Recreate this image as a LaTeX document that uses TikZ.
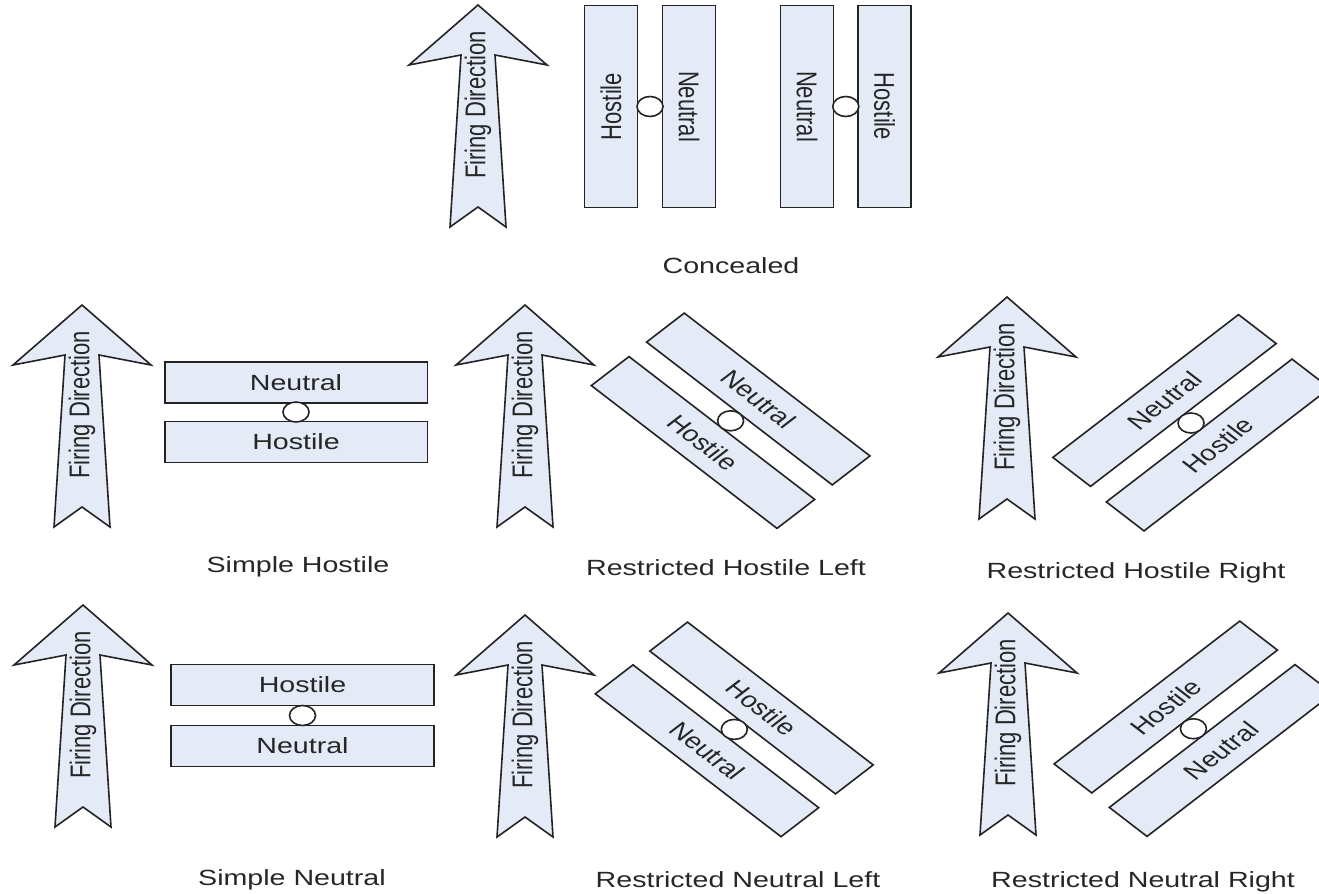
\documentclass[tikz,border=0pt]{standalone}
\usepackage{fontspec}
\setmainfont{Liberation Sans}
\definecolor{boxfill}{RGB}{228,234,246}
\definecolor{edge}{RGB}{35,35,35}
\tikzset{
  lbl/.style={font=\fontsize{11}{13}\selectfont, transform shape, inner sep=0pt, text=black!85},
  slab/.style={draw=edge, fill=boxfill, line width=0.8pt, minimum width=101pt, minimum height=20.5pt,
               inner sep=0pt, transform shape, font=\fontsize{11}{13}\selectfont, text=black!85},
  hinge/.style={circle, draw=edge, fill=white, line width=0.8pt, minimum size=10pt, inner sep=0pt, transform shape},
  arrowbody/.style={draw=edge, fill=boxfill, line width=0.8pt, line join=miter},
  firearrow/.pic={
    \draw[arrowbody] (0,0) -- (69,60) -- (17,50) -- (28,222) -- (0,202) -- (-28,222) -- (-17,50) -- (-69,60) -- cycle;
    \node[lbl, rotate=90] (-txt) at (0,100) {Firing Direction};
  }
}
\begin{document}
\begin{tikzpicture}[x=0.384615pt, y=-0.5pt]
\begin{scope}[xscale=1.3]
\useasboundingbox (0,0) rectangle (1319,893);

% ---------- Concealed ----------
\pic[transform shape] (a0) at (478,5) {firearrow};
\node[slab, rotate=90]  (c1) at (611,106.5) {Hostile};
\node[slab, rotate=-90] (c2) at (689,106.5) {Neutral};
\node[hinge] (h0a) at (650,106.5) {};
\node[slab, rotate=-90] (c3) at (807,106.5) {Neutral};
\node[slab, rotate=-90] (c4) at (884.5,106.5) {Hostile};
\node[hinge] (h0b) at (845.75,106.5) {};
\node[lbl, anchor=base] (l0) at (731,273) {Concealed};

% ---------- Simple Hostile ----------
\pic[transform shape] (a1) at (82,305) {firearrow};
\node[slab] (sh1) at (296,382.5) {Neutral};
\node[slab] (sh2) at (296,442) {Hostile};
\node[hinge] (h1) at (296,412) {};
\node[lbl, anchor=base] (l1) at (298,572) {Simple Hostile};

% ---------- Restricted Hostile Left ----------
\pic[transform shape] (a2) at (525,305) {firearrow};
\node[slab, rotate=-45] (rl1) at (758.25,399) {Neutral};
\node[slab, rotate=-45] (rl2) at (703,442.5) {Hostile};
\node[hinge] (h2) at (730.6,420.8) {};
\node[lbl, anchor=base] (l2) at (726,575) {Restricted Hostile Left};

% ---------- Restricted Hostile Right ----------
\pic[transform shape] (a3) at (1007,297) {firearrow};
\node[slab, rotate=45] (rr1) at (1164.5,400.5) {Neutral};
\node[slab, rotate=45] (rr2) at (1218,445) {Hostile};
\node[hinge] (h3) at (1191,423) {};
\node[lbl, anchor=base] (l3) at (1136,578) {Restricted Hostile Right};

% ---------- Simple Neutral ----------
\pic[transform shape] (a4) at (83,605) {firearrow};
\node[slab] (sn1) at (302.5,685) {Hostile};
\node[slab] (sn2) at (302.5,746) {Neutral};
\node[hinge] (h4) at (302.5,715.5) {};
\node[lbl, anchor=base] (l4) at (292,885) {Simple Neutral};

% ---------- Restricted Neutral Left ----------
\pic[transform shape] (a5) at (525,615) {firearrow};
\node[slab, rotate=-45] (nl1) at (761.5,708) {Hostile};
\node[slab, rotate=-45] (nl2) at (707,750.75) {Neutral};
\node[hinge] (h5) at (734.3,729.4) {};
\node[lbl, anchor=base] (l5) at (738,887) {Restricted Neutral Left};

% ---------- Restricted Neutral Right ----------
\pic[transform shape] (a6) at (1008,613) {firearrow};
\node[slab, rotate=45] (nr1) at (1165.75,707) {Hostile};
\node[slab, rotate=45] (nr2) at (1221,750.5) {Neutral};
\node[hinge] (h6) at (1193.4,728.75) {};
\node[lbl, anchor=base] (l6) at (1143,887) {Restricted Neutral Right};
\end{scope}
\end{tikzpicture}
\end{document}
